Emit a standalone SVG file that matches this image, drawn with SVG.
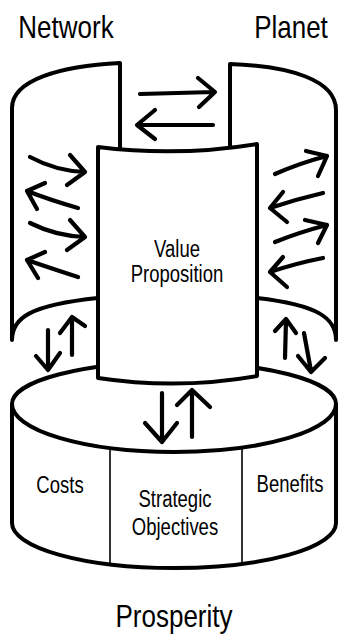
<svg xmlns="http://www.w3.org/2000/svg" width="340" height="637" viewBox="0 0 340 637">
<style>
.shape{fill:#fff;stroke:#000;stroke-width:4;stroke-linejoin:round;stroke-linecap:round}
.thin{fill:none;stroke:#000;stroke-width:1.6}
.arr{fill:none;stroke:#000;stroke-width:4.2;stroke-linecap:round;stroke-linejoin:round}
.title{font-family:"Liberation Sans",Arial,sans-serif;font-size:26px;fill:#000;text-anchor:middle}
.label{font-family:"Liberation Sans",Arial,sans-serif;font-size:18.5px;fill:#000;text-anchor:middle}
</style>
<rect width="340" height="637" fill="#fff"/>

<g id="prosperity">
  <path class="shape" d="M12 404 L12 523 A162 45 0 0 0 336 523 L336 404 Z"/>
  <path class="shape" d="M12 404 A162 42 0 0 1 336 404 A162 48 0 0 1 12 404 Z"/>
  <line class="thin" x1="110" y1="448" x2="110" y2="564"/>
  <line class="thin" x1="242" y1="448" x2="242" y2="564"/>
  <text class="label" transform="translate(60 493) scale(1 1.3)">Costs</text>
  <text class="label" transform="translate(175 507) scale(1 1.3)">Strategic</text>
  <text class="label" transform="translate(175 535) scale(1 1.3)">Objectives</text>
  <text class="label" transform="translate(290 492) scale(1 1.3)">Benefits</text>
  <text class="title" transform="translate(174 627) scale(1 1.18)">Prosperity</text>
</g>

<g id="network">
  <path class="shape" d="M12 340 L12 108 C12 80 60 66 120 63 L120 298 L98 298 C30 305 12 318 12 340 Z"/>
  <text class="title" transform="translate(66 38) scale(1 1.18)">Network</text>
</g>

<g id="planet">
  <path class="shape" d="M336 340 L336 110 C336 80 290 66 230 64 L230 298 L257 298 C318 305 336 318 336 340 Z"/>
  <text class="title" transform="translate(291 38) scale(1 1.18)">Planet</text>
</g>

<g id="value-proposition">
  <path class="shape" d="M98 147 Q178 157 257 144 L257 376 Q178 390 98 378 Z"/>
  <text class="label" transform="translate(177 257) scale(1 1.3)">Value</text>
  <text class="label" transform="translate(177 282) scale(1 1.3)">Proposition</text>
</g>

<g id="connectors">
  <path class="arr" d="M140 94 L214 92 M198 78 L215 92 L199 107"/>
  <path class="arr" d="M213 125 L137 125 M155 110 L137 125 L155 139"/>

  <path class="arr" d="M30 157 Q56 171 85 172 M70 155 L85 172 L67 185"/>
  <path class="arr" d="M78 208 Q50 200 27 191 M45 183 L27 191 L37 209"/>
  <path class="arr" d="M30 223 Q56 236 85 237 M70 220 L85 237 L67 250"/>
  <path class="arr" d="M78 277 Q50 268 27 260 M45 252 L27 260 L38 278"/>

  <path class="arr" d="M275 174 Q300 163 327 156 M306 151 L327 156 L318 176"/>
  <path class="arr" d="M323 193 Q297 199 270 208 M283 192 L270 208 L287 222"/>
  <path class="arr" d="M275 242 Q300 232 327 225 M305 220 L327 225 L318 243"/>
  <path class="arr" d="M323 258 Q297 263 270 272 M283 257 L270 272 L287 287"/>

  <path class="arr" d="M48 330 L48 369 M36 356 L48 370 L60 353"/>
  <path class="arr" d="M72 355 L72 318 M60 333 L72 317 L85 326"/>
  <path class="arr" d="M285 358 L286 320 M275 331 L286 319 L296 333"/>
  <path class="arr" d="M304 333 L311 371 M298 356 L311 372 L325 358"/>

  <path class="arr" d="M162 393 L162 441 M145 423 L162 442 L177 423"/>
  <path class="arr" d="M192 437 L192 391 M177 405 L192 390 L210 407"/>
</g>
</svg>
